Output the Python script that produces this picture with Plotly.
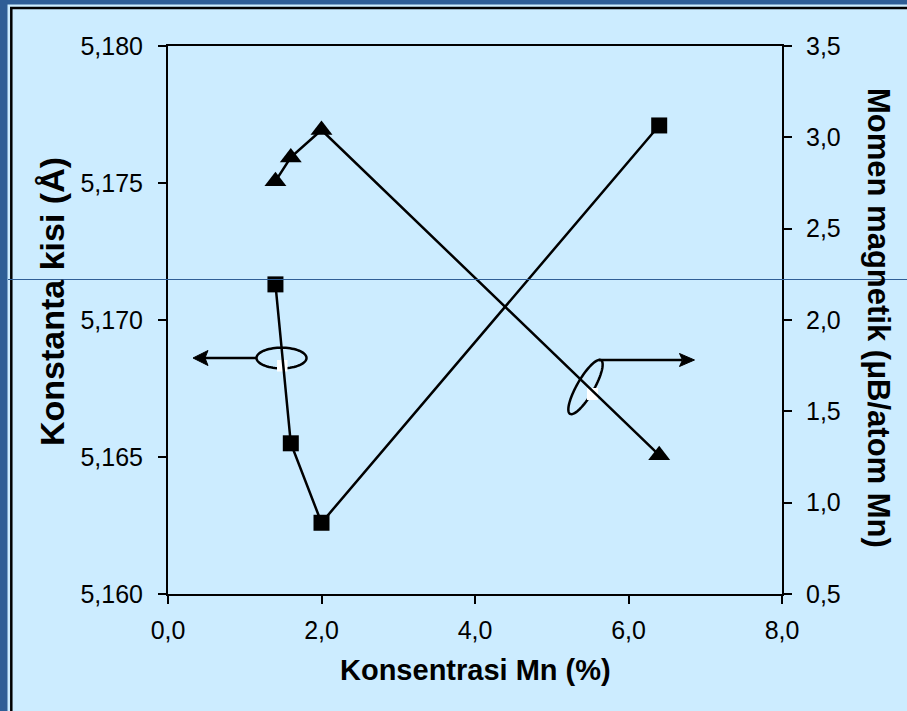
import numpy as np
import plotly.graph_objects as go

# Mn concentration (%) shared by both series
konsentrasi = [1.4, 1.6, 2.0, 6.4]
# lattice constant (Å) - left axis, square markers
konstanta_kisi = [5.1713, 5.1655, 5.1626, 5.1771]
# magnetic moment (μB/atom Mn) - right axis, triangle markers
momen_magnetik = [2.76, 2.89, 3.04, 1.26]

x_ticks = [0.0, 2.0, 4.0, 6.0, 8.0]
kisi_ticks = [5.160, 5.165, 5.170, 5.175, 5.180]
momen_ticks = [0.5, 1.0, 1.5, 2.0, 2.5, 3.0, 3.5]

FIG_W, FIG_H = 907, 711
L, R, T, B = 168, 782, 46, 594          # plot-area edges in pixels
W, H = R - L, B - T

BG = "#CCECFF"
FRAME = "#2F5E96"
FONT = "Liberation Sans, Arial, sans-serif"


def px(x):
    return (x - L) / W


def py(y):
    return (B - y) / H


def path(points, close=False):
    s = "M " + " L ".join(f"{px(a):.5f},{py(b):.5f}" for a, b in points)
    return s + (" Z" if close else "")


def ellipse(cx, cy, a, b, ang_deg):
    t = np.linspace(0, 2 * np.pi, 73)
    th = np.radians(ang_deg)
    u = np.array([np.cos(th), -np.sin(th)])
    v = np.array([np.sin(th), np.cos(th)])
    pts = [(cx + a * np.cos(k) * u[0] + b * np.sin(k) * v[0],
            cy + a * np.cos(k) * u[1] + b * np.sin(k) * v[1]) for k in t]
    return path(pts, close=True)


def arrow_head(tip_x, tip_y, direction, length=15, half=7.5, notch=3):
    back = tip_x - direction * length
    mid = back + direction * notch
    return path([(tip_x, tip_y), (back, tip_y - half), (mid, tip_y),
                 (back, tip_y + half)], close=True)


fig = go.Figure()

fig.add_trace(go.Scatter(
    x=konsentrasi, y=konstanta_kisi, mode="lines+markers",
    line=dict(color="black", width=2.5),
    marker=dict(symbol="square", size=16, color="black"),
    yaxis="y", showlegend=False))

fig.add_trace(go.Scatter(
    x=konsentrasi, y=momen_magnetik, mode="lines+markers",
    line=dict(color="black", width=2.5),
    marker=dict(symbol="triangle-up", size=19, color="black"),
    yaxis="y2", showlegend=False))

black = dict(color="black", width=2.5)
shapes = [
    # slide frame
    dict(type="rect", xref="paper", yref="paper", x0=px(0), x1=px(FIG_W),
         y0=py(0), y1=py(4.5), fillcolor=FRAME, line=dict(width=0), layer="above"),
    dict(type="rect", xref="paper", yref="paper", x0=px(0), x1=px(7.5),
         y0=py(0), y1=py(FIG_H), fillcolor=FRAME, line=dict(width=0), layer="above"),
    dict(type="line", xref="paper", yref="paper", x0=px(10), x1=px(FIG_W),
         y0=py(8), y1=py(8), line=black, layer="above"),
    dict(type="line", xref="paper", yref="paper", x0=px(11.3), x1=px(11.3),
         y0=py(7), y1=py(FIG_H), line=black, layer="above"),
    dict(type="line", xref="paper", yref="paper", x0=px(8), x1=px(FIG_W),
         y0=py(279.5), y1=py(279.5), line=dict(color=FRAME, width=1), layer="above"),
    # left axis marker: ellipse + arrow pointing left
    dict(type="path", xref="paper", yref="paper", path=ellipse(281.5, 358, 25, 10.3, 0),
         line=black, layer="below"),
    dict(type="line", xref="paper", yref="paper", x0=px(256.5), x1=px(205),
         y0=py(358), y1=py(358), line=black, layer="below"),
    dict(type="path", xref="paper", yref="paper", path=arrow_head(193, 358, -1),
         fillcolor="black", line=dict(color="black", width=1), layer="below"),
    dict(type="rect", xref="paper", yref="paper", x0=px(277), x1=px(287.5),
         y0=py(360), y1=py(371.5), fillcolor="white", line=dict(width=0), layer="below"),
    # right axis marker: tilted ellipse + arrow pointing right
    dict(type="path", xref="paper", yref="paper", path=ellipse(585.5, 387, 31, 8.5, 60),
         line=black, layer="below"),
    dict(type="line", xref="paper", yref="paper", x0=px(599), x1=px(682),
         y0=py(360), y1=py(360), line=black, layer="below"),
    dict(type="path", xref="paper", yref="paper", path=arrow_head(694.5, 360, 1, half=6.5),
         fillcolor="black", line=dict(color="black", width=1), layer="below"),
    dict(type="rect", xref="paper", yref="paper", x0=px(587), x1=px(598),
         y0=py(388), y1=py(400), fillcolor="white", line=dict(width=0), layer="below"),
]

annotations = [
    dict(text="<b>Konsentrasi Mn (%)</b>", xref="paper", yref="paper",
         x=px(475), y=py(670), xanchor="center", yanchor="middle", showarrow=False,
         font=dict(family=FONT, size=29, color="black")),
    dict(text="<b>Konstanta kisi (Å)</b>", xref="paper", yref="paper",
         x=px(52), y=py(302), xanchor="center", yanchor="middle", showarrow=False,
         textangle=-90, font=dict(family=FONT, size=34, color="black")),
    dict(text="<b>Momen magnetik (μB/atom Mn)</b>", xref="paper", yref="paper",
         x=px(879), y=py(318), xanchor="center", yanchor="middle", showarrow=False,
         textangle=90, font=dict(family=FONT, size=31, color="black")),
]

axis_common = dict(showgrid=False, zeroline=False, showline=True, linecolor="black",
                   linewidth=2, ticks="outside", ticklen=8, tickwidth=2, tickcolor="black",
                   tickfont=dict(family=FONT, size=25, color="black"))

fig.update_layout(
    width=FIG_W, height=FIG_H, autosize=False,
    margin=dict(l=L, r=FIG_W - R, t=T, b=FIG_H - B, pad=0),
    paper_bgcolor=BG, plot_bgcolor=BG,
    separators=",.",
    xaxis=dict(range=[0, 8], tickvals=x_ticks, tickformat=".1f", mirror=True,
               ticklabelstandoff=5, **axis_common),
    yaxis=dict(range=[5.160, 5.180], tickvals=kisi_ticks, tickformat=".3f",
               ticklabelstandoff=10, **axis_common),
    yaxis2=dict(range=[0.5, 3.5], tickvals=momen_ticks, tickformat=".1f",
                overlaying="y", side="right", ticklabelstandoff=9, **axis_common),
    shapes=shapes, annotations=annotations,
)

fig.write_html("out.html")
